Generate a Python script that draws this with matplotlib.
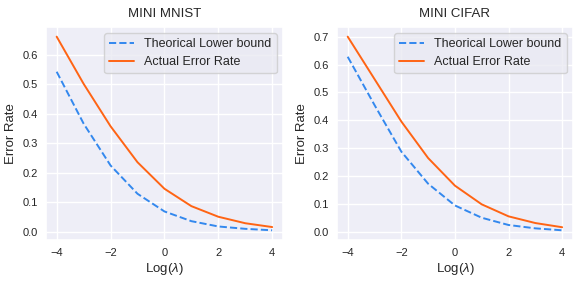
import matplotlib
matplotlib.use("Agg")
import matplotlib.pyplot as plt
import seaborn as sns

sns.set_theme(style="darkgrid")
plt.rcParams['font.family'] = ['Liberation Sans', 'DejaVu Sans']
plt.rcParams['mathtext.fontset'] = 'custom'
plt.rcParams['mathtext.it'] = 'Liberation Sans:italic'
plt.rcParams['mathtext.rm'] = 'Liberation Sans'

log_lambda = [-4, -3, -2, -1, 0, 1, 2, 3, 4]
mnist_lower = [0.543, 0.367, 0.225, 0.129, 0.069, 0.036, 0.018, 0.010, 0.005]
mnist_actual = [0.662, 0.502, 0.358, 0.236, 0.146, 0.087, 0.051, 0.029, 0.016]
cifar_lower = [0.628, 0.455, 0.288, 0.173, 0.095, 0.051, 0.025, 0.013, 0.006]
cifar_actual = [0.700, 0.548, 0.396, 0.265, 0.166, 0.099, 0.056, 0.032, 0.017]

titles = ["MINI MNIST", "MINI CIFAR"]
lowers = [mnist_lower, cifar_lower]
actuals = [mnist_actual, cifar_actual]

fig = plt.figure(figsize=(5.81, 2.84), dpi=100)
positions = [[0.079, 0.155, 0.408, 0.75], [0.580, 0.155, 0.406, 0.75]]

for pos, t, lo, ac in zip(positions, titles, lowers, actuals):
    ax = fig.add_axes(pos)
    ax.set_facecolor("#EEEEF7")
    ax.plot(log_lambda, lo, linestyle="--", color="#3388ee", lw=1.4, label="Theorical Lower bound")
    ax.plot(log_lambda, ac, linestyle="-", color="#ff6414", lw=1.4, label="Actual Error Rate")
    ax.set_title(t, fontsize=9.5, pad=7)
    ax.set_xlabel(r"Log($\lambda$)", fontsize=9.5, labelpad=2)
    ax.set_ylabel("Error Rate", fontsize=9.5, labelpad=4)
    ax.set_xticks([-4, -2, 0, 2, 4])
    ax.tick_params(labelsize=8, length=0, pad=6)
    leg = ax.legend(fontsize=9, loc="upper right")
    leg.get_frame().set_edgecolor("#cccccc")

fig.savefig("out.png", dpi=100)
